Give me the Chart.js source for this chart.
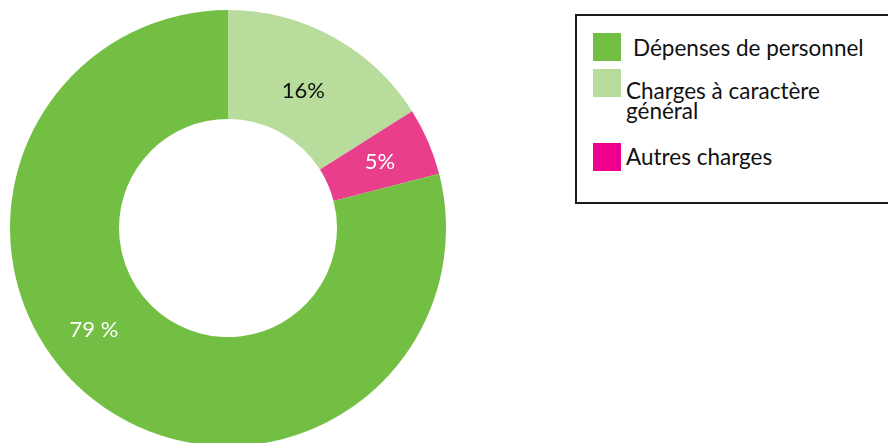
<!DOCTYPE html>
<html>
<head>
<meta charset="utf-8">
<script src="https://cdn.jsdelivr.net/npm/chart.js@4.4.0/dist/chart.umd.min.js"></script>
<style>
  html, body { margin: 0; padding: 0; background: #fff; overflow: hidden; }
  body { width: 888px; height: 443px; position: relative; font-family: Lato, sans-serif; }
  #wrap { position: absolute; left: 10px; top: 10px; width: 436px; height: 436px; }
  #legend {
    position: absolute; left: 575px; top: 14px; width: 330px; height: 186px;
    border: 2px solid #1a1a1a; box-sizing: content-box;
  }
  .item { position: absolute; font-size: 22.5px; line-height: 20px; color: #111; white-space: nowrap; }
  .sw { position: absolute; width: 28px; height: 28px; }
</style>
</head>
<body>
<div id="wrap"><canvas id="donut"></canvas></div>
<div id="legend"></div>
<script>
// slice order as drawn, clockwise from 12 o'clock
const sliceLabels = ['Charges à caractère général', 'Autres charges', 'Dépenses de personnel'];
const sliceValues = [16, 5, 79];
const sliceText = ['16%', '5%', '79 %'];
const sliceColors = ['#b8dc9c', '#e83e8c', '#72bf44'];
const sliceTextColors = ['#111111', '#ffffff', '#ffffff'];
// nudges for the labels: angle (radians) along the ring, and radius (px)
const labelShift = [0, 0, 0.26];
const labelRadius = [-7, 2, 5];

// legend order as in the box
const legendLabels = ['Dépenses de personnel', 'Charges à caractère<br>général', 'Autres charges'];
const legendColors = ['#72bf44', '#b8dc9c', '#ec008c'];

// build legend
function buildLegend() {
    const box = document.getElementById('legend');
    const tops = [17, 53, 127];
    const textTops = [22, 65, 131];
    const textLeft = [56, 49, 49];
    legendLabels.forEach((lab, i) => {
        const sw = document.createElement('div');
        sw.className = 'sw';
        sw.style.background = legendColors[i];
        sw.style.left = '16px';
        sw.style.top = tops[i] + 'px';
        box.appendChild(sw);
        const t = document.createElement('div');
        t.className = 'item';
        t.innerHTML = lab;
        t.style.left = textLeft[i] + 'px';
        t.style.top = textTops[i] + 'px';
        box.appendChild(t);
    });
}

// percentage labels inside slices
const sliceLabelPlugin = {
    id: 'sliceLabels',
    afterDatasetsDraw(chart) {
        const ctx = chart.ctx;
        const meta = chart.getDatasetMeta(0);
        ctx.save();
        ctx.font = '22px Lato, sans-serif';
        ctx.textAlign = 'center';
        ctx.textBaseline = 'middle';
        meta.data.forEach((arc, i) => {
            const p = arc.getProps(['x', 'y', 'startAngle', 'endAngle', 'innerRadius', 'outerRadius'], true);
            const a = (p.startAngle + p.endAngle) / 2 + labelShift[i];
            const r = (p.innerRadius + p.outerRadius) / 2 + labelRadius[i];
            ctx.fillStyle = sliceTextColors[i];
            ctx.fillText(sliceText[i], p.x + Math.cos(a) * r, p.y + Math.sin(a) * r);
        });
        ctx.restore();
    }
};

document.addEventListener('DOMContentLoaded', function() {
    buildLegend();
    new Chart(document.getElementById('donut'), {
        type: 'doughnut',
        data: {
            labels: sliceLabels,
            datasets: [{
                data: sliceValues,
                backgroundColor: sliceColors,
                borderWidth: 0
            }]
        },
        options: {
            responsive: true,
            maintainAspectRatio: false,
            animation: false,
            cutout: '50%',
            layout: { padding: 0 },
            plugins: {
                legend: { display: false },
                tooltip: { enabled: false }
            }
        },
        plugins: [sliceLabelPlugin]
    });
});
</script>
</body>
</html>
